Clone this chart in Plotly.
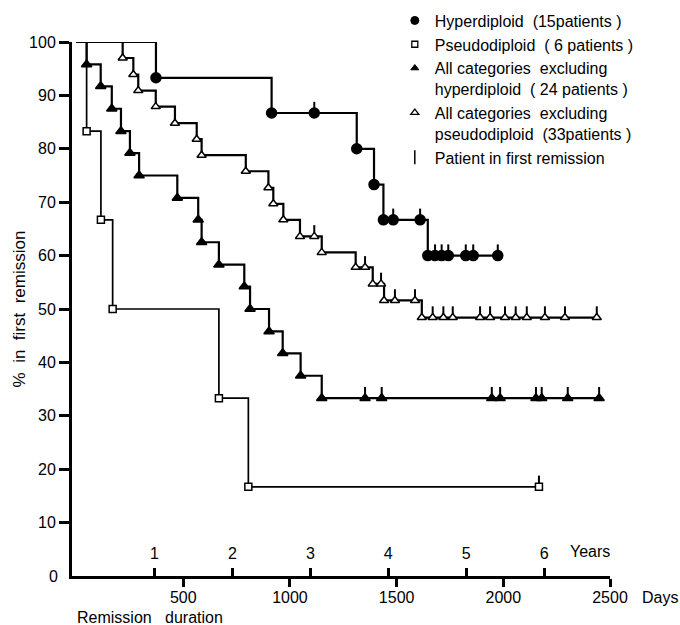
import plotly.graph_objects as go

# ---------------- data (days, % in first remission) ----------------
hyper_event_days = [372, 914, 1313, 1394, 1438, 1646]
hyper_event_pct = [93.3, 86.7, 80.0, 73.3, 66.7, 60.0]
hyper_censor_days = [1114, 1484, 1610, 1680, 1711, 1742, 1824, 1859, 1974]

pseudo_event_days = [47, 114, 169, 667, 805]
pseudo_event_pct = [83.3, 66.7, 50.0, 33.3, 16.7]
pseudo_censor_days = [2167]

exhyper_event_days = [47, 113, 165, 208, 250, 293, 472, 570, 586, 667, 786, 813, 902, 966, 1050, 1149]
exhyper_event_pct = [95.8, 91.7, 87.5, 83.3, 79.2, 75.0, 70.8, 66.7, 62.5, 58.3, 54.2, 50.0, 45.8, 41.7, 37.5, 33.3]
exhyper_censor_days = [1352, 1430, 1946, 1985, 2153, 2180, 2302, 2449]

expseudo_event_days = [216, 266, 289, 371, 461, 563, 586, 793, 899, 922, 969, 1047, 1149, 1308, 1388, 1441, 1618]
expseudo_event_pct = [97.0, 93.9, 90.9, 87.9, 84.8, 81.8, 78.8, 75.8, 72.7, 69.7, 66.7, 63.6, 60.6, 57.8, 54.7, 51.6, 48.4]
expseudo_censor_days = [1114, 1352, 1427, 1492, 1586, 1669, 1719, 1763, 1891, 1938, 2008, 2058, 2110, 2195, 2289, 2438]

day_ticks = [500, 1000, 1500, 2000, 2500]
year_ticks = [1, 2, 3, 4, 5, 6]
pct_ticks = [10, 20, 30, 40, 50, 60, 70, 80, 90, 100]

legend_names = [
    "Hyperdiploid  (15patients )",
    "Pseudodiploid  ( 6 patients )",
    "All categories  excluding<br>hyperdiploid  ( 24 patients )",
    "All categories  excluding<br>pseudodiploid  (33patients )",
    "Patient in first remission",
]

FONT = "Liberation Sans, Arial, sans-serif"


def level_at(day, ev_d, ev_p):
    lvl = 100.0
    for d, p in zip(ev_d, ev_p):
        if d <= day:
            lvl = p
    return lvl


def add_curve(fig, ev_d, ev_p, cen_d, symbol, fill, msize, lw):
    cen_p = [level_at(c, ev_d, ev_p) for c in cen_d]
    pts = sorted([(0, 100.0)] + list(zip(ev_d, ev_p)) + list(zip(cen_d, cen_p)))
    fig.add_trace(go.Scatter(
        x=[p[0] for p in pts], y=[p[1] for p in pts], mode="lines",
        line=dict(color="black", width=lw, shape="hv"), showlegend=False, hoverinfo="skip"))
    mk = dict(symbol=symbol, size=msize, color=fill, line=dict(color="black", width=1.5))
    fig.add_trace(go.Scatter(x=ev_d, y=ev_p, mode="markers", marker=mk, showlegend=False))
    fig.add_trace(go.Scatter(
        x=cen_d, y=cen_p, mode="markers", marker=mk, showlegend=False,
        error_y=dict(type="constant", symmetric=False, value=2.1, valueminus=0,
                     width=0, thickness=2, color="black")))


fig = go.Figure()
add_curve(fig, pseudo_event_days, pseudo_event_pct, pseudo_censor_days, "square", "white", 7, 1.7)
add_curve(fig, expseudo_event_days, expseudo_event_pct, expseudo_censor_days, "triangle-up", "white", 8, 2.2)
add_curve(fig, exhyper_event_days, exhyper_event_pct, exhyper_censor_days, "triangle-up", "black", 9, 2.2)
add_curve(fig, hyper_event_days, hyper_event_pct, hyper_censor_days, "circle", "black", 10, 2.2)

# legend-only traces
leg_markers = [
    dict(symbol="circle", size=8, color="black", line=dict(color="black", width=1)),
    dict(symbol="square", size=6, color="white", line=dict(color="black", width=1.3)),
    dict(symbol="triangle-up", size=7, color="black", line=dict(color="black", width=1)),
    dict(symbol="triangle-up", size=7, color="white", line=dict(color="black", width=1.3)),
    dict(symbol="line-ns", size=10, color="black", line=dict(color="black", width=1.5)),
]
for name, mk in zip(legend_names, leg_markers):
    fig.add_trace(go.Scatter(x=[None], y=[None], mode="markers", marker=mk, name=name))

# dummy trace for the years axis
fig.add_trace(go.Scatter(x=[None], y=[None], xaxis="x2", showlegend=False, hoverinfo="skip"))

fig.update_layout(
    width=680, height=625,
    margin=dict(l=72, r=70, t=42, b=49, autoexpand=False),
    paper_bgcolor="white", plot_bgcolor="white",
    font=dict(family=FONT, size=16, color="black"),
    showlegend=True,
    legend=dict(x=0.6, y=1.072, xanchor="left", yanchor="top", bgcolor="rgba(0,0,0,0)",
                font=dict(size=16, color="black"), valign="top", tracegroupgap=0,
                itemsizing="trace"),
    xaxis=dict(range=[-21.5, 2500], showgrid=False, zeroline=False, automargin=False,
               showline=True, linecolor="black", linewidth=3,
               ticks="outside", ticklen=8, tickwidth=2.5, tickcolor="black",
               tickvals=day_ticks, ticktext=[str(d) for d in day_ticks],
               ticklabelstandoff=-3,
               tickfont=dict(size=16, color="black")),
    xaxis2=dict(range=[-21.5, 2500], overlaying="x", anchor="y", side="bottom",
                showgrid=False, zeroline=False, showline=False, automargin=False,
                ticks="inside", ticklen=8, tickwidth=2.5, tickcolor="black",
                ticklabelposition="inside", ticklabelstandoff=6,
                tickvals=[y * 365.25 for y in year_ticks],
                ticktext=[str(y) for y in year_ticks],
                tickfont=dict(size=16, color="black")),
    yaxis=dict(range=[0, 100], showgrid=False, zeroline=False, automargin=False,
               showline=True, linecolor="black", linewidth=3,
               ticks="outside", ticklen=10, tickwidth=2.5, tickcolor="black",
               tickvals=pct_ticks, tickfont=dict(size=16, color="black"),
               title=dict(text="%&nbsp; in&nbsp; first&nbsp; remission", standoff=0,
                          font=dict(size=17, color="black"))),
    annotations=[
        dict(text="0", xref="paper", yref="y", x=0, y=0, xanchor="right", yanchor="middle",
             xshift=-12, showarrow=False, font=dict(size=16)),
        dict(text="Years", xref="paper", yref="paper", x=1.004, y=0.046,
             xanchor="right", yanchor="middle", showarrow=False, font=dict(size=16)),
        dict(text="Days", xref="paper", yref="paper", x=1.056, y=-0.04,
             xanchor="left", yanchor="middle", showarrow=False, font=dict(size=16)),
        dict(text="Remission&nbsp;  duration", xref="paper", yref="paper", x=0.005, y=-0.077,
             xanchor="left", yanchor="middle", showarrow=False, font=dict(size=16)),
    ],
)

fig.write_html("out.html", config={"displayModeBar": False},
               post_script="document.body.style.margin='0';document.body.style.overflow='hidden';")
